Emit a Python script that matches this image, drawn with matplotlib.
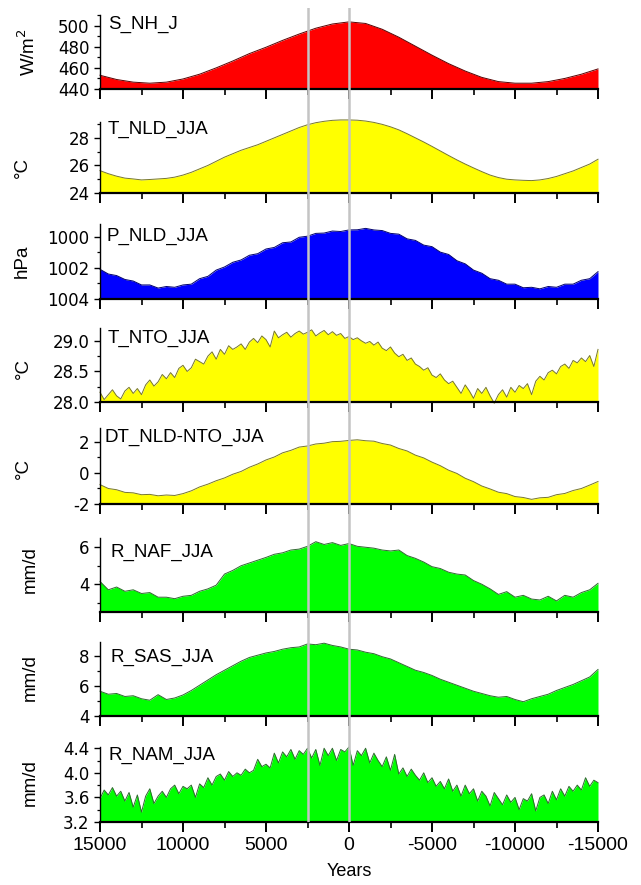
import numpy as np
import matplotlib
matplotlib.use('Agg')
import matplotlib.pyplot as plt
from matplotlib.ticker import MultipleLocator, FormatStrFormatter

plt.rcParams['font.family'] = ['Liberation Sans', 'DejaVu Sans']
plt.rcParams['axes.unicode_minus'] = False

# x grids (years, positive = past)
years_1000 = np.arange(15000, -15001, -1000)
years_500 = np.arange(15000, -15001, -500)
years_250 = np.arange(15000, -15001, -250)

# values
s_nh_j = [453, 449, 446.5, 445.5, 446.5, 449.5, 454, 460, 466.5, 473.5,
          479.5, 486, 492, 497.5, 501.5, 503.5, 502, 496.5, 489, 480.5,
          472, 464, 457, 451, 447, 445.5, 445.5, 447, 450, 454, 459]

t_nld = [25.62, 25.40, 25.22, 25.08, 25.02, 24.95, 24.98, 25.02, 25.06, 25.15,
         25.30, 25.50, 25.75, 26.00, 26.30, 26.60, 26.85, 27.10, 27.30, 27.50,
         27.75, 28.00, 28.25, 28.50, 28.75, 28.95, 29.10, 29.20, 29.27, 29.30,
         29.30, 29.28, 29.22, 29.12, 28.98, 28.80, 28.58, 28.30, 28.00, 27.70,
         27.38, 27.05, 26.72, 26.40, 26.10, 25.82, 25.55, 25.30, 25.12, 25.00,
         24.95, 24.92, 24.90, 24.95, 25.05, 25.20, 25.40, 25.60, 25.85, 26.10,
         26.45]

p_nld = [1002.10, 1002.40, 1002.50, 1002.75, 1002.85, 1003.10, 1003.10, 1003.30, 1003.20, 1003.25,
         1003.10, 1003.05, 1002.70, 1002.55, 1002.15, 1001.95, 1001.65, 1001.50, 1001.20, 1001.10,
         1000.80, 1000.70, 1000.40, 1000.35, 1000.05, 999.98, 999.80, 999.78, 999.65, 999.68,
         999.58, 999.57, 999.48, 999.58, 999.62, 999.80, 999.85, 1000.15, 1000.25, 1000.55,
         1000.65, 1001.00, 1001.15, 1001.55, 1001.75, 1002.15, 1002.35, 1002.70, 1002.80, 1003.05,
         1003.05, 1003.28, 1003.25, 1003.35, 1003.20, 1003.25, 1003.05, 1003.05, 1002.80, 1002.70,
         1002.25]

t_nto = [28.16, 28.04, 28.12, 28.20, 28.10, 28.05, 28.18, 28.24, 28.14, 28.22, 28.12,
         28.28, 28.36, 28.26, 28.33, 28.45, 28.38, 28.48, 28.40, 28.55, 28.60, 28.50,
         28.56, 28.70, 28.66, 28.62, 28.75, 28.82, 28.70, 28.86, 28.78, 28.92, 28.86,
         28.90, 28.95, 28.86, 28.98, 29.04, 28.97, 29.08, 29.02, 28.90, 29.16, 29.05,
         29.10, 29.14, 29.06, 29.12, 29.16, 29.11, 29.14, 29.18, 29.08, 29.13, 29.17,
         29.10, 29.15, 29.09, 29.12, 29.04, 29.07, 29.02, 29.05, 29.00, 28.96, 28.99,
         28.93, 28.98, 28.88, 28.84, 28.90, 28.80, 28.74, 28.78, 28.68, 28.72, 28.62,
         28.58, 28.52, 28.56, 28.44, 28.40, 28.46, 28.36, 28.30, 28.34, 28.24, 28.14,
         28.28, 28.18, 28.06, 28.22, 28.14, 28.24, 28.10, 27.98, 28.12, 28.20, 28.08,
         28.24, 28.16, 28.27, 28.22, 28.30, 28.12, 28.34, 28.42, 28.36, 28.48, 28.52,
         28.46, 28.58, 28.62, 28.55, 28.68, 28.64, 28.72, 28.66, 28.76, 28.58, 28.86]

dt_nld_nto = [-0.75, -1.00, -1.08, -1.25, -1.28, -1.40, -1.38, -1.47, -1.42, -1.45,
              -1.33, -1.15, -0.90, -0.72, -0.50, -0.32, -0.08, 0.10, 0.37, 0.58,
              0.84, 1.03, 1.30, 1.46, 1.67, 1.74, 1.87, 1.92, 2.02, 2.04,
              2.10, 2.14, 2.08, 2.05, 1.90, 1.80, 1.58, 1.42, 1.15, 0.97,
              0.70, 0.47, 0.18, -0.03, -0.34, -0.56, -0.84, -1.03, -1.24, -1.33,
              -1.52, -1.58, -1.70, -1.60, -1.57, -1.40, -1.32, -1.13, -1.00, -0.78,
              -0.55]

r_naf = [4.15, 3.70, 3.85, 3.62, 3.70, 3.50, 3.55, 3.30, 3.30, 3.22,
         3.35, 3.40, 3.62, 3.75, 3.95, 4.55, 4.75, 5.00, 5.15, 5.30,
         5.45, 5.62, 5.70, 5.85, 5.90, 6.05, 6.30, 6.15, 6.25, 6.10,
         6.20, 6.05, 6.00, 5.95, 5.85, 5.80, 5.85, 5.55, 5.40, 5.20,
         4.95, 4.85, 4.65, 4.55, 4.50, 4.20, 4.00, 3.75, 3.45, 3.60,
         3.30, 3.40, 3.20, 3.15, 3.35, 3.10, 3.40, 3.30, 3.55, 3.70,
         4.05]

r_sas = [5.65, 5.45, 5.50, 5.30, 5.35, 5.15, 5.05, 5.42, 5.10, 5.20,
         5.40, 5.70, 6.05, 6.40, 6.75, 7.05, 7.35, 7.65, 7.90, 8.05,
         8.20, 8.30, 8.45, 8.55, 8.60, 8.80, 8.75, 8.85, 8.70, 8.60,
         8.45, 8.40, 8.25, 8.15, 7.95, 7.80, 7.55, 7.30, 7.05, 6.90,
         6.70, 6.45, 6.25, 6.05, 5.85, 5.65, 5.50, 5.35, 5.25, 5.30,
         5.10, 4.95, 5.15, 5.30, 5.45, 5.70, 5.90, 6.10, 6.35, 6.60,
         7.10]

r_nam = [3.58, 3.72, 3.64, 3.76, 3.62, 3.70, 3.54, 3.68, 3.44, 3.64, 3.36,
         3.62, 3.74, 3.50, 3.62, 3.70, 3.60, 3.74, 3.80, 3.66, 3.78, 3.74,
         3.80, 3.60, 3.82, 3.76, 3.92, 3.80, 3.94, 3.98, 3.88, 4.02, 3.94,
         4.00, 3.96, 4.06, 4.00, 4.04, 4.22, 4.10, 4.14, 4.08, 4.32, 4.16,
         4.34, 4.26, 4.38, 4.22, 4.36, 4.30, 4.40, 4.24, 4.38, 4.12, 4.40,
         4.28, 4.40, 4.20, 4.38, 4.34, 4.42, 4.12, 4.36, 4.28, 4.40, 4.16,
         4.32, 4.20, 4.10, 4.26, 4.04, 4.30, 3.98, 4.08, 3.94, 4.06, 3.96,
         3.88, 4.00, 3.84, 3.92, 3.78, 3.86, 3.74, 3.90, 3.70, 3.80, 3.62,
         3.80, 3.66, 3.74, 3.54, 3.70, 3.62, 3.46, 3.68, 3.58, 3.48, 3.64,
         3.52, 3.60, 3.40, 3.58, 3.54, 3.66, 3.38, 3.60, 3.64, 3.50, 3.70,
         3.56, 3.74, 3.62, 3.78, 3.70, 3.80, 3.72, 3.92, 3.78, 3.88, 3.84]

panel_names = ['S_NH_J', 'T_NLD_JJA', 'P_NLD_JJA', 'T_NTO_JJA',
               'DT_NLD-NTO_JJA', 'R_NAF_JJA', 'R_SAS_JJA', 'R_NAM_JJA']
units = ['W/m$^2$', '°C', 'hPa', '°C', '°C', 'mm/d', 'mm/d', 'mm/d']
event_years = [2500, 0]

RED, YEL, BLU, GRN = '#ff0000', '#ffff00', '#0000ff', '#00ff00'

# (x, y, ylim, major, minor, fmt, face, edge)
panels = [
    (years_1000, s_nh_j, (440, 510), 20, 10, '%d', RED, '#5a0000'),
    (years_500, t_nld, (24, 29.15), 2, 1, '%d', YEL, '#77772a'),
    (years_500, p_nld, (1004, 999.2), 2, 1, '%d', BLU, '#00006e'),
    (years_250, t_nto, (28.0, 29.21), 0.5, 0.25, '%.1f', YEL, '#77772a'),
    (years_500, dt_nld_nto, (-2, 2.9), 2, 1, '%d', YEL, '#77772a'),
    (years_500, r_naf, (2.5, 6.5), 2, 1, '%d', GRN, '#2f6a2f'),
    (years_500, r_sas, (4, 8.93), 2, 1, '%d', GRN, '#2f6a2f'),
    (years_250, r_nam, (3.2, 4.42), 0.4, 0.2, '%.1f', GRN, '#2f6a2f'),
]

# pixel layout (top, bottom) of each panel, label offsets
W, H = 641, 885
left_px, right_px = 100, 598
rows = [(15, 89), (122, 193), (224, 299), (328, 402),
        (428, 504), (538, 612), (642, 716), (747, 822)]
name_dx = [8, 8, 7, 8, 4, 11, 11, 9]
name_dy = [1, -1, 4, 2, 1, 6, 7, 0]
unit_x = [28, 22, 22, 23, 23, 30, 30, 30]
unit_y = [0.5, 0.36, 0.5, 0.45, 0.47, 0.58, 0.52, 0.52]

fig = plt.figure(figsize=(W / 100, H / 100), dpi=100)
axw = (right_px - left_px) / W

for i, (x, y, ylim, major, minor, fmt, face, edge) in enumerate(panels):
    top, bot = rows[i]
    ax = fig.add_axes([left_px / W, 1 - bot / H, axw, (bot - top) / H])
    base = ylim[0]
    ax.fill_between(x, y, base, color=face, lw=0, clip_on=False)
    ax.plot(x, y, color=edge, lw=0.7, clip_on=False)
    ax.set_xlim(15000, -15000)
    ax.set_ylim(*ylim)
    ax.xaxis.set_major_locator(MultipleLocator(5000))
    ax.xaxis.set_minor_locator(MultipleLocator(2500))
    ax.yaxis.set_major_locator(MultipleLocator(major))
    ax.yaxis.set_minor_locator(MultipleLocator(minor))
    ax.yaxis.set_major_formatter(FormatStrFormatter(fmt))
    for s in ['top', 'right']:
        ax.spines[s].set_visible(False)
    ax.spines['left'].set_linewidth(1.0)
    ax.spines['bottom'].set_linewidth(1.6)
    ax.tick_params(axis='x', which='major', direction='out', length=7, width=1.4,
                   labelsize=14, pad=4)
    ax.tick_params(axis='x', which='minor', direction='out', length=4, width=1.2)
    ax.tick_params(axis='y', which='major', direction='out', length=4.5, width=1.0,
                   labelsize=12, pad=3, labelfontfamily='DejaVu Sans')
    ax.tick_params(axis='y', which='minor', direction='out', length=2.5, width=0.9)
    if i < len(panels) - 1:
        ax.tick_params(axis='x', labelbottom=False)
    h = bot - top
    ax.text(name_dx[i] / (right_px - left_px), 1 - name_dy[i] / h, panel_names[i],
            transform=ax.transAxes, ha='left', va='top', fontsize=13.5)
    ax.text((unit_x[i] - left_px) / (right_px - left_px), unit_y[i], units[i],
            transform=ax.transAxes, rotation=90, ha='center', va='center',
            fontsize=13.5)

# gray event lines through the whole stack
ov = fig.add_axes([left_px / W, 1 - 822 / H, axw, (822 - 8) / H])
ov.set_xlim(15000, -15000)
ov.set_ylim(0, 1)
ov.axis('off')
ov.patch.set_alpha(0)
for ev in event_years:
    ov.axvline(ev, color='#c4c4c4', lw=1.8)

fig.text((left_px + right_px) / 2 / W, 1 - 872 / H, 'Years', ha='center', va='center',
         fontsize=13)

fig.savefig('out.png', dpi=100)
